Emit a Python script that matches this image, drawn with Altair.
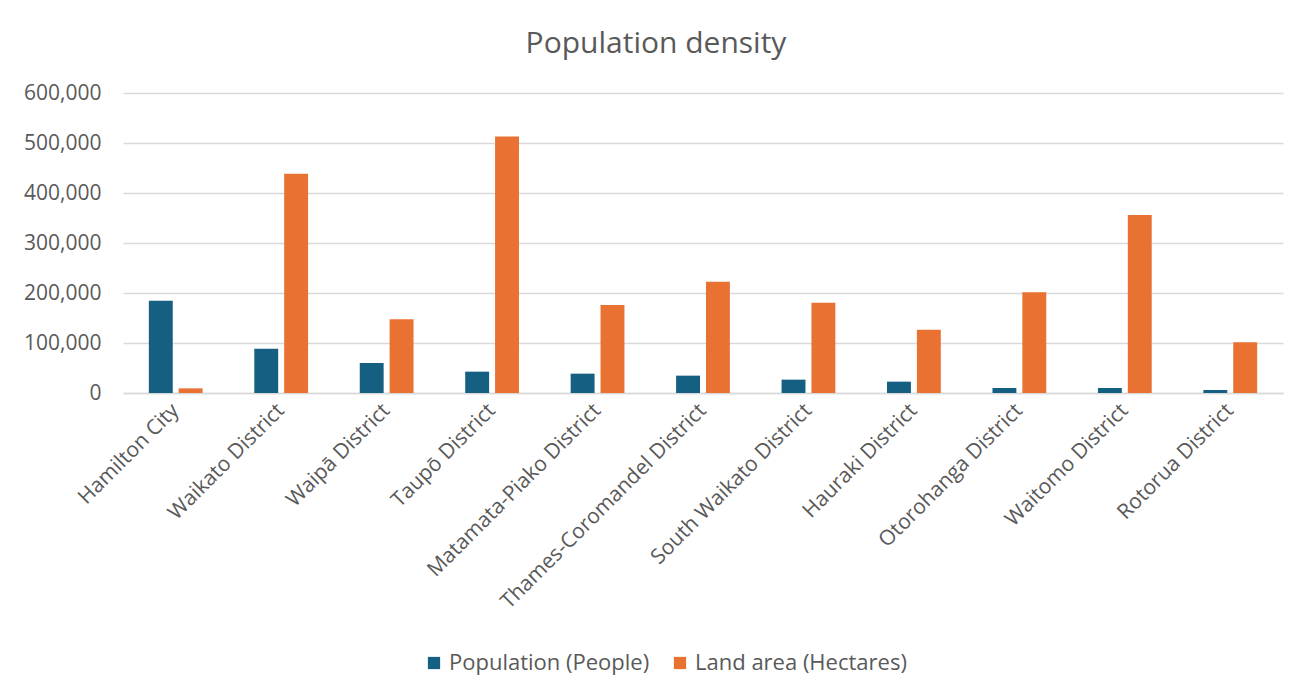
import altair as alt
import pandas as pd

districts = [
    "Hamilton City", "Waikato District", "Waipā District", "Taupō District",
    "Matamata-Piako District", "Thames-Coromandel District", "South Waikato District",
    "Hauraki District", "Otorohanga District", "Waitomo District", "Rotorua District",
]
population = [184700, 88700, 60000, 42700, 38700, 34700, 26700, 22700, 10000, 10000, 6000]
land_area = [9300, 438700, 147300, 513000, 176000, 222700, 180700, 126700, 201300, 356000, 101300]
series = ["Population (People)", "Land area (Hectares)"]
y_ticks = [0, 100000, 200000, 300000, 400000, 500000, 600000]

rows = []
for d, p, l in zip(districts, population, land_area):
    rows.append({"District": d, "Series": series[0], "Value": p})
    rows.append({"District": d, "Series": series[1], "Value": l})
df = pd.DataFrame(rows)

FONT = "Open Sans"
TXT = "#595959"

chart = alt.Chart(df).mark_bar().encode(
    x=alt.X(
        "District:N", sort=districts, title=None,
        scale=alt.Scale(paddingInner=0.49, paddingOuter=0.245),
        axis=alt.Axis(labelAngle=-45, labelFontSize=21, labelColor=TXT, labelFont=FONT,
                      labelAlign="right", labelBaseline="middle",
                      ticks=False, domainColor="#D9D9D9", domainWidth=1.5, labelPadding=14,
                      labelLimit=500),
    ),
    xOffset=alt.XOffset("Series:N", sort=series, scale=alt.Scale(paddingInner=0.2)),
    y=alt.Y(
        "Value:Q", title=None,
        scale=alt.Scale(domain=[0, 600000]),
        axis=alt.Axis(values=y_ticks, format=",.0f", labelFontSize=21, labelColor=TXT,
                      labelFont=FONT, ticks=False, domain=False, gridColor="#D9D9D9",
                      gridWidth=1.5, labelPadding=22),
    ),
    color=alt.Color(
        "Series:N", sort=series,
        scale=alt.Scale(domain=series, range=["#156082", "#E97132"]),
        legend=alt.Legend(orient="none", legendX=300, legendY=559, direction="horizontal",
                          title=None, symbolType="square", symbolSize=150,
                          symbolStrokeWidth=0, labelFontSize=22, labelColor=TXT,
                          labelFont=FONT, columnPadding=19, labelOffset=4, labelLimit=500),
    ),
).properties(
    width=1160, height=300,
    title=alt.TitleParams("Population density", fontSize=30, color=TXT, font=FONT,
                          fontWeight="normal", anchor="middle", dx=-47, offset=23),
    autosize="none",
    padding={"left": 115, "top": 85, "right": 14, "bottom": 290},
).configure_view(stroke=None)

chart.save("out.html", embed_options={"renderer": "svg", "actions": False})
